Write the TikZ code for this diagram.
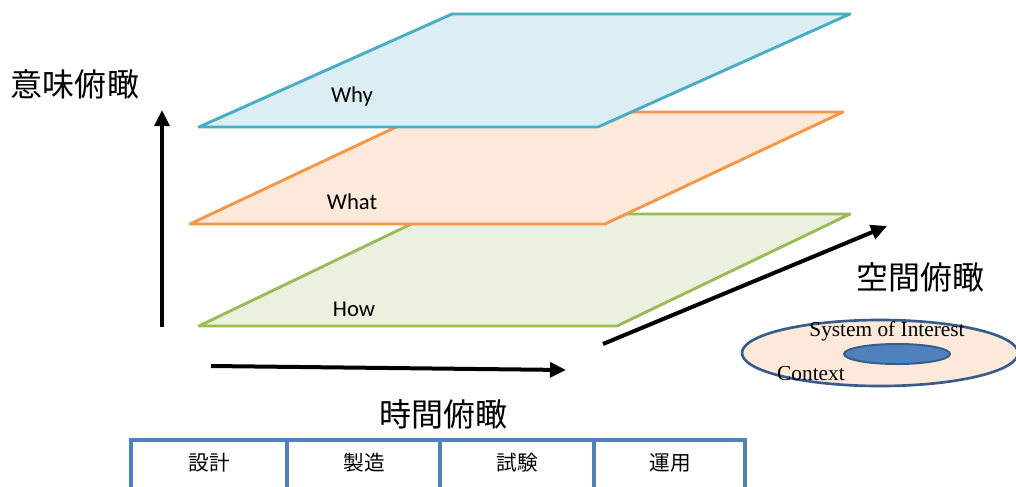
\documentclass[tikz,border=0pt]{standalone}
\usepackage{fontspec}
\setmainfont{Liberation Serif}
\newfontfamily\cjk{Noto Sans CJK JP}
\newfontfamily\carl{Carlito}
\usetikzlibrary{arrows.meta}
\definecolor{whyfill}{HTML}{DAEEF3}
\definecolor{whyline}{HTML}{4BACC6}
\definecolor{whatfill}{HTML}{FDE9D9}
\definecolor{whatline}{HTML}{F79646}
\definecolor{howfill}{HTML}{EBF1DE}
\definecolor{howline}{HTML}{9BBB59}
\definecolor{ctxline}{HTML}{385D8A}
\definecolor{soifill}{HTML}{4F81BD}
\definecolor{tabline}{HTML}{4F81BD}
\tikzset{
  plane/.style={line width=2.2pt, line join=round},
  axis/.style={line width=3pt, -{Triangle[length=12pt,width=11pt]}},
  layerlbl/.style={font=\carl\fontsize{17}{19}\selectfont, inner sep=0pt},
  axislbl/.style={font=\cjk\fontsize{24}{27}\selectfont, inner sep=0pt},
  cell/.style={font=\cjk\fontsize{15.5}{17}\selectfont, inner sep=0pt},
  serlbl/.style={font=\fontsize{16}{18}\selectfont, inner sep=0pt},
  tab/.style={tabline, line width=2.4pt}
}
\begin{document}
\begin{tikzpicture}[x=0.75pt,y=-0.75pt]
\useasboundingbox (0,0) rectangle (1016,486);
\clip (0,0) rectangle (1016,486);
% planes
\draw[plane, draw=howline, fill=howfill] (199,326) -- (432,214) -- (850,214) -- (617,326) -- cycle;
\draw[plane, draw=whatline, fill=whatfill] (190,224) -- (428,112) -- (843,112) -- (605,224) -- cycle;
\draw[plane, draw=whyline, fill=whyfill] (199,127) -- (452,14) -- (850,14) -- (598,127) -- cycle;
\node[layerlbl] (why) at (352,96) {Why};
\node[layerlbl] (what) at (352,202) {What};
\node[layerlbl] (how) at (354,309) {How};
% axes
\coordinate (v0) at (162,327);
\coordinate (v1) at (162,110);
\coordinate (h0) at (211,366);
\coordinate (h1) at (566,370);
\coordinate (d0) at (603,344);
\coordinate (d1) at (887,226);
\draw[axis] (v0) -- (v1);
\draw[axis] (h0) -- (h1);
\draw[axis] (d0) -- (d1);
\node[axislbl] (imi) at (75,84) {意味俯瞰};
\node[axislbl] (jikan) at (443,414) {時間俯瞰};
\node[axislbl] (kukan) at (920,277) {空間俯瞰};
% context ellipses
\draw[ctxline, line width=2pt, fill=whatfill] (880,353) ellipse [x radius=138, y radius=33];
\draw[ctxline, line width=1.5pt, fill=soifill] (897,354) ellipse [x radius=53, y radius=10];
\node[serlbl] (soi) at (887,331) {System of Interest};
\node[serlbl] (context) at (811,374) {Context};
% table
\draw[tab] (131,500) -- (131,440) -- (745,440) -- (745,500);
\draw[tab] (287,440) -- (287,500);
\draw[tab] (440,440) -- (440,500);
\draw[tab] (594,440) -- (594,500);
\node[cell] (c1) at (209,463) {設計};
\node[cell] (c2) at (364,463) {製造};
\node[cell] (c3) at (517,463) {試験};
\node[cell] (c4) at (670,463) {運用};
\end{tikzpicture}
\end{document}
